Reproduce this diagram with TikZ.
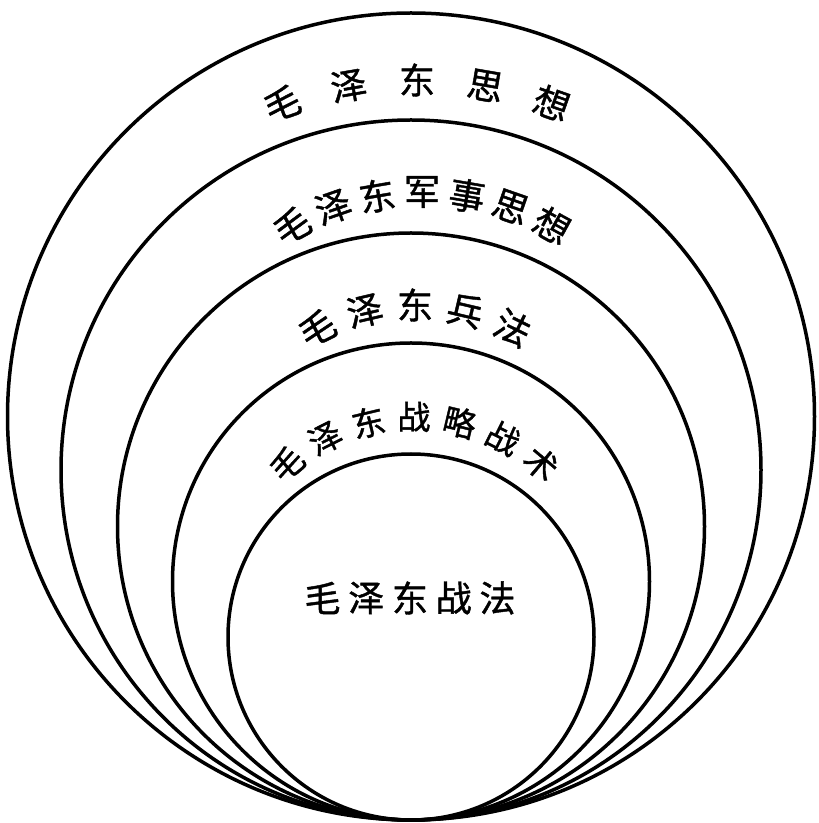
\documentclass[tikz,border=0pt]{standalone}
\usepackage{fontspec}
\newfontfamily\cjk[FakeBold=1.2]{Noto Sans CJK SC}
\usetikzlibrary{calc}
\tikzset{
 ring/.style={draw, line width=3.5pt},
 zi/.style={font=\cjk\fontsize{36}{36}\selectfont, inner sep=0pt},
 zis/.style={font=\cjk\fontsize{33}{33}\selectfont, inner sep=0pt},
}

\begin{document}
\begin{tikzpicture}[x=1pt,y=1pt]
\useasboundingbox (0,0) rectangle (819,823);
% rings, all touching at the bottom
\foreach \r in {403.5,350,293.5,238.5,183}
  \draw[ring] (411,3+\r) circle[radius=\r];
% labels set along the arcs
\foreach \c/\k in {毛/-2,泽/-1,东/0,思/1,想/2}
  \node[zi, rotate={-9.7*\k}] (a\k) at ($(417,337)+({90-9.7*\k}:406)$) {\c};
\foreach \c/\k in {毛/-3,泽/-2,东/-1,军/0,事/1,思/2,想/3}
  \node[zi, rotate={-9.6*\k}] (b\k) at ($(422,361)+({90-9.6*\k}:270)$) {\c};
\foreach \c/\k in {毛/-2,泽/-1,东/0,兵/1,法/2}
  \node[zi, rotate={-13.2*\k}] (c\k) at ($(415,298)+({90-13.2*\k}:220)$) {\c};
\foreach \c/\k in {毛/-3,泽/-2,东/-1,战/0,略/1,战/2,术/3}
  \node[zis, rotate={-13.4*\k}] (d\k) at ($(414,209)+({90-13.4*\k}:197)$) {\c};
% innermost label
\foreach \c/\k in {毛/-2,泽/-1,东/0,战/1,法/2}
  \node[zi] (e\k) at ($(410,225)+(43.75*\k,0)$) {\c};
\end{tikzpicture}
\end{document}
